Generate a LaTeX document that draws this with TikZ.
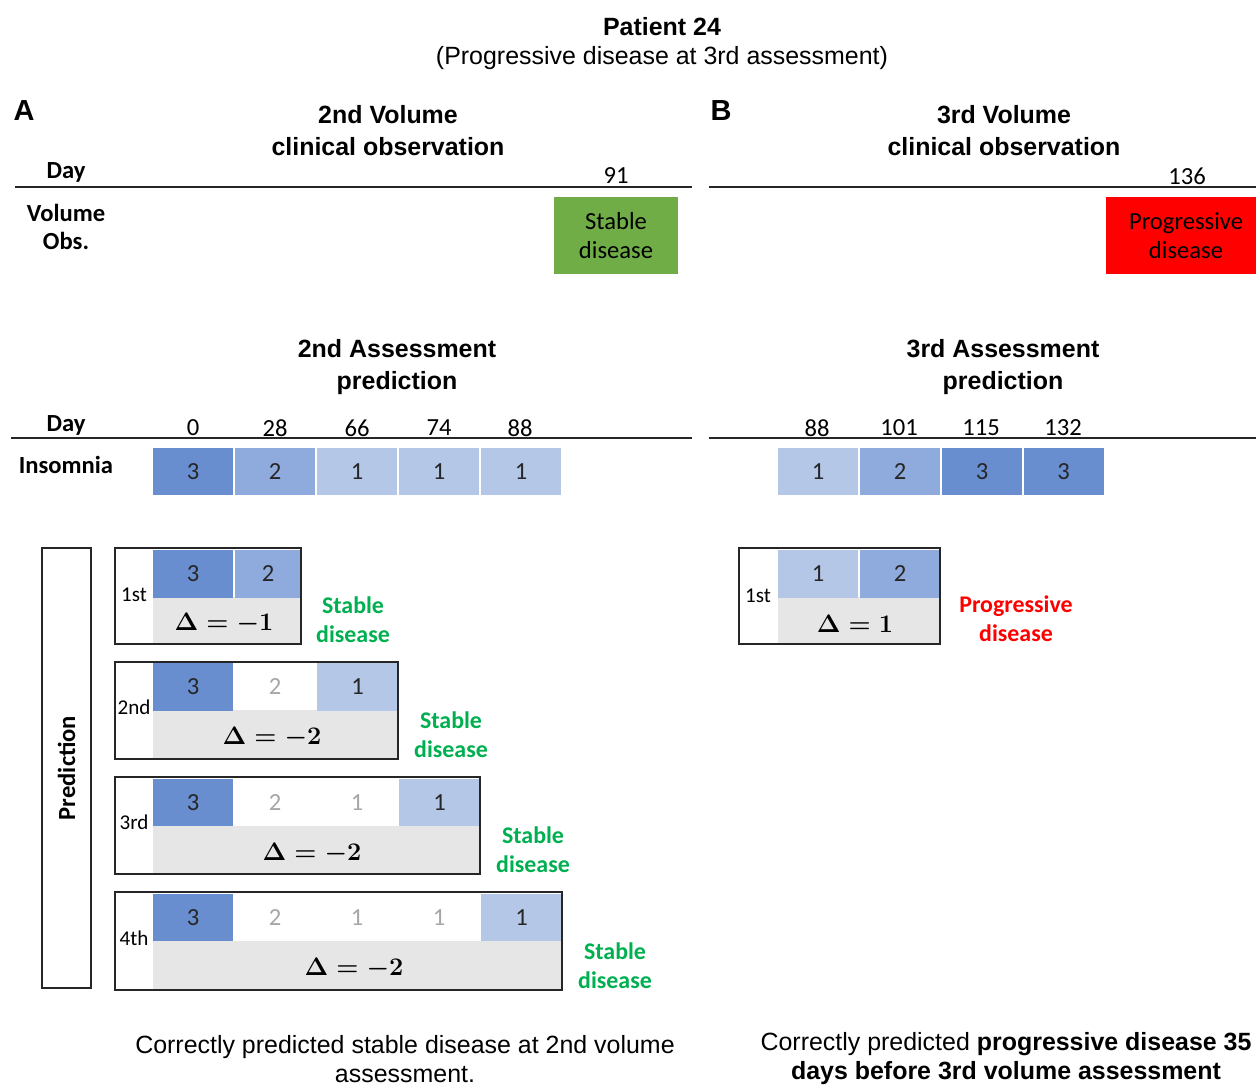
\documentclass[tikz,border=0pt]{standalone}
\usepackage{amsmath}
\usepackage{fontspec}
\usepackage{tikz}
\usetikzlibrary{positioning}
\usepackage{xcolor}

\setmainfont{Carlito}
\newfontfamily\arialfont{Liberation Sans}

\definecolor{scorethree}{HTML}{698ED0}
\definecolor{scoretwo}{HTML}{8FAADC}
\definecolor{scoreone}{HTML}{B4C7E7}
\definecolor{stablegreen}{HTML}{70AD47}
\definecolor{labelgreen}{HTML}{00B050}
\definecolor{deltagray}{HTML}{E6E6E6}
\definecolor{fadednum}{HTML}{A6A6A6}

\begin{document}
\begin{tikzpicture}[x=0.02cm, y=-0.02cm,
  head/.style={font=\arialfont\bfseries\fontsize{14.2}{18}\selectfont, align=center},
  arialtext/.style={font=\arialfont\fontsize{14.2}{16.5}\selectfont, align=center},
  rowlabel/.style={font=\bfseries\fontsize{14}{16}\selectfont, align=center},
  daynum/.style={font=\fontsize{14}{16}\selectfont},
  cell/.style={minimum width=1.6cm, minimum height=0.95cm, inner sep=0pt, font=\fontsize{14}{16}\selectfont, text=black!85},
  scthree/.style={cell, fill=scorethree},
  sctwo/.style={cell, fill=scoretwo},
  scone/.style={cell, fill=scoreone},
  scfaded/.style={cell, text=fadednum},
  volbox/.style={minimum width=2.48cm, minimum height=1.54cm, inner sep=0pt, align=center, font=\fontsize{14}{16.4}\selectfont},
  dayline/.style={line width=1.2pt, black!85},
  predframe/.style={draw=black!85, line width=1pt},
  ordinal/.style={font=\fontsize{12}{14}\selectfont},
  delta/.style={font=\boldmath\fontsize{14}{16}\selectfont},
  outcome/.style={font=\bfseries\fontsize{13.6}{16.4}\selectfont, align=center}
]

\useasboundingbox (0,0) rectangle (1256,1087);

% title
\node[head] (title) at (662,27) {Patient 24};
\node[arialtext] (subtitle) at (662,58) {(Progressive disease at 3rd assessment)};

\node[head, font=\arialfont\bfseries\fontsize{16.5}{18}\selectfont] (panelA) at (24,111) {A};
\node[head, font=\arialfont\bfseries\fontsize{16.5}{18}\selectfont] (panelB) at (721,111) {B};

%%%%%%%%%%%%%%%% panel A %%%%%%%%%%%%%%%%
{
\node[head] (volA) at (388,130.5) {2nd Volume\\clinical observation};

\node[rowlabel] (dayA) at (66,172) {Day};
\node[daynum] (dayA91) at (616,176) {91};
\draw[dayline] (15,187)--(692,187);

\node[rowlabel] (volobs) at (66,227) {Volume\\Obs.};
\node[volbox, fill=stablegreen] (volstable) at (616,235.5) {Stable\\disease};

\node[head] (assessA) at (397,367) {2nd Assessment\\prediction};

\node[rowlabel] (dayB) at (66,425) {Day};
\draw[dayline] (11,438)--(692,438);

% nodes
\node[daynum] (dA0) at (193,428) {0};
\node[daynum] (dA28) at (275,428) {28};
\node[daynum] (dA66) at (357,428) {66};
\node[daynum] (dA74) at (439,428) {74};
\node[daynum] (dA88) at (520,428) {88};

\node[rowlabel] (insomnia) at (66,465) {Insomnia};

\node[scthree] (iA1) at (193,471.5) {3};
\node[sctwo] (iA2) at (275,471.5) {2};
\node[scone] (iA3) at (357,471.5) {1};
\node[scone] (iA4) at (439,471.5) {1};
\node[scone] (iA5) at (521,471.5) {1};
}

% prediction column
\node[predframe, rotate=90, minimum width=8.8cm, minimum height=0.98cm, rowlabel] (predcol) at (66.5,768) {Prediction};

% 1st prediction
{
\fill[deltagray] (153,597) rectangle (301,644);
\node[scthree] (pa1) at (193,574) {3};
\node[sctwo, minimum width=1.32cm] (pa2) at (268,574) {2};
\node[ordinal] (pa0) at (134,595) {1st};
\node[delta] (pad) at (224,624) {$\Delta = -1$};
\draw[predframe] (115,548) rectangle (301,644);
\node[outcome, text=labelgreen] (pal) at (353,619.5) {Stable\\disease};
}

% 2nd prediction
{
\fill[deltagray] (153,710) rectangle (398,759);
\node[scthree] (pb1) at (193,687) {3};
\node[scfaded] (pb2) at (275,687) {2};
\node[scone, minimum width=1.62cm] (pb3) at (357.5,687) {1};
\node[ordinal] (pb0) at (134,707) {2nd};
\node[delta] (pbd) at (272,738) {$\Delta = -2$};
\draw[predframe] (115,662) rectangle (398,759);
\node[outcome, text=labelgreen] (pbl) at (451,734.5) {Stable\\disease};
}

% 3rd prediction
{
\fill[deltagray] (153,826) rectangle (480,874);
\node[scthree] (pc1) at (193,802.5) {3};
\node[scfaded] (pc2) at (275,802.5) {2};
\node[scfaded] (pc3) at (357,802.5) {1};
\node[scone, minimum width=1.62cm] (pc4) at (439.5,802.5) {1};
\node[ordinal] (pc0) at (134,822) {3rd};
\node[delta] (pcd) at (312,853) {$\Delta = -2$};
\draw[predframe] (115,777) rectangle (480,874);
\node[outcome, text=labelgreen] (pcl) at (533,849.5) {Stable\\disease};
}

% 4th prediction
{
\fill[deltagray] (153,941) rectangle (562,990);
\node[scthree] (pd1) at (193,917.5) {3};
\node[scfaded] (pd2) at (275,917.5) {2};
\node[scfaded] (pd3) at (357,917.5) {1};
\node[scfaded] (pd4) at (439,917.5) {1};
\node[scone, minimum width=1.62cm] (pd5) at (521.5,917.5) {1};
\node[ordinal] (pd0) at (134,938) {4th};
\node[delta] (pdd) at (354,968) {$\Delta = -2$};
\draw[predframe] (115,892) rectangle (562,990);
\node[outcome, text=labelgreen] (pdl) at (615,965.5) {Stable\\disease};
}

\node[arialtext] (noteA) at (405,1059) {Correctly predicted stable disease at 2nd volume\\assessment.};

%%%%%%%%%%%%%%%% panel B %%%%%%%%%%%%%%%%
{
\node[head] (volB) at (1004,130.5) {3rd Volume\\clinical observation};

\node[daynum] (dayB136) at (1187,176) {136};
\draw[dayline] (709,187)--(1256,187);

\node[volbox, fill=red, minimum width=3.2cm] (volprog) at (1186,235.5) {Progressive\\disease};

\node[head] (assessB) at (1003,367) {3rd Assessment\\prediction};

\draw[dayline] (709,438)--(1256,438);

% nodes
\node[daynum] (dB88) at (817,428) {88};
\node[daynum] (dB101) at (899,428) {101};
\node[daynum] (dB115) at (981,428) {115};
\node[daynum] (dB132) at (1063,428) {132};

\node[scone] (iB1) at (818,471.5) {1};
\node[sctwo] (iB2) at (900,471.5) {2};
\node[scthree] (iB3) at (982,471.5) {3};
\node[scthree] (iB4) at (1063.5,471.5) {3};

% 1st prediction
\fill[deltagray] (778,597) rectangle (940,644);
\node[scone] (qa1) at (818,574) {1};
\node[sctwo] (qa2) at (900,574) {2};
\node[ordinal] (qa0) at (758,596) {1st};
\node[delta] (qad) at (855,624) {$\Delta = 1$};
\draw[predframe] (739,548) rectangle (940,644);
\node[outcome, text=red] (qal) at (1016,619) {Progressive\\disease};
}

\node[arialtext] (noteB) at (1006,1059) {Correctly predicted \textbf{progressive disease 35}\\\textbf{days before 3rd volume assessment}};

\end{tikzpicture}
\end{document}
